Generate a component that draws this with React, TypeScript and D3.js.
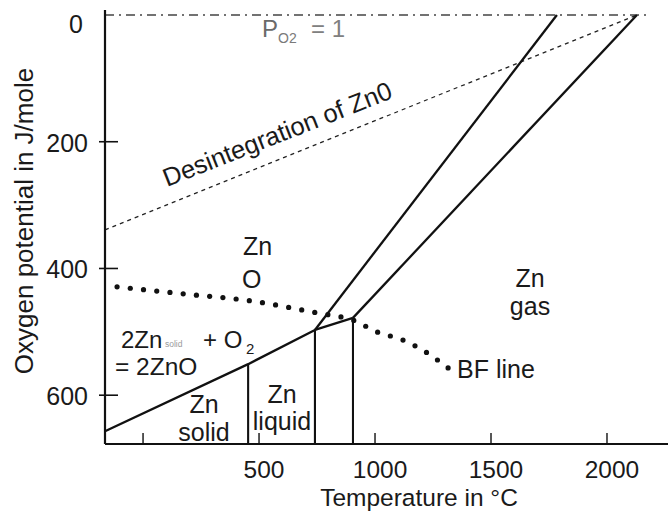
import React, { useEffect, useRef } from 'react';
import * as d3 from 'd3';

const W = 668;
const H = 512;

// Temperature (°C) / oxygen potential (J/mole, drawn downward) values
const formationT = [-164, 453, 741, 905];
const formationG = [657, 551, 497, 478];
const oxideLowT = [741, 1784];
const oxideLowG = [497, 0];
const oxideHighT = [905, 2129];
const oxideHighG = [478, 0];
const boundaryT = [453, 741, 905];
const boundaryG = [551, 497, 478];
const disintegrationT = [-164, 2129];
const disintegrationG = [339, 0];
const po2T = [-164, 2180];
const po2G = [0, 0];
const bfT = [-112, 172, 461, 750, 901, 1008, 1121, 1224, 1315];
const bfG = [429, 440, 451, 470, 481, 500, 513, 533, 557];
const yTicks = [0, 200, 400, 600];
const yTickMarks = [200, 400, 600];
const xTicks = [0, 500, 1000, 1500, 2000];
const xTickLabels = ['', '500', '1000', '1500', '2000'];

const FONT = '"Liberation Sans", Arial, Helvetica, sans-serif';

export default function App() {
  const ref = useRef<SVGSVGElement | null>(null);

  useEffect(() => {
    const svg = d3.select(ref.current);
    svg.selectAll('*').remove();

    const x = d3.scaleLinear().domain([-164, 2263]).range([105, 668]);
    const y = d3.scaleLinear().domain([0, 677]).range([15, 444]);
    const gMin = -8;
    const gMax = 677;

    const zip = (ts: number[], gs: number[]) => ts.map((t, i) => [t, gs[i]] as [number, number]);
    const line = d3.line<[number, number]>().x(d => x(d[0])).y(d => y(d[1]));

    const g = svg.append('g').attr('font-family', FONT);

    // P_O2 = 1 dash-dot line
    g.append('path')
      .attr('d', line(zip(po2T, po2G)))
      .attr('fill', 'none').attr('stroke', '#444').attr('stroke-width', 1.6)
      .attr('stroke-dasharray', '9 5 2 5');

    // Disintegration dashed line
    g.append('path')
      .attr('d', line(zip(disintegrationT, disintegrationG)))
      .attr('fill', 'none').attr('stroke', '#222').attr('stroke-width', 1.3)
      .attr('stroke-dasharray', '4 4');

    // Axes
    g.append('line')
      .attr('x1', x(-164)).attr('x2', x(-164)).attr('y1', y(gMin)).attr('y2', y(gMax))
      .attr('stroke', '#111').attr('stroke-width', 2.2);
    g.append('line')
      .attr('x1', x(-164)).attr('x2', x(2263)).attr('y1', y(gMax)).attr('y2', y(gMax))
      .attr('stroke', '#111').attr('stroke-width', 2.2);

    // Y ticks
    g.selectAll('.ytick').data(yTickMarks).enter().append('line')
      .attr('x1', x(-164) - 6).attr('x2', x(-164) + 13)
      .attr('y1', d => y(d)).attr('y2', d => y(d))
      .attr('stroke', '#111').attr('stroke-width', 1.6);
    g.selectAll('.ylab').data(yTicks).enter().append('text')
      .attr('x', d => (d === 0 ? 83 : 88)).attr('y', d => Math.max(y(d) + 1, 24))
      .attr('text-anchor', 'end').attr('dominant-baseline', 'central')
      .attr('font-size', 25).attr('fill', '#1a1a1a')
      .text(d => String(d));

    // X ticks
    g.selectAll('.xtick').data(xTicks).enter().append('line')
      .attr('x1', d => x(d)).attr('x2', d => x(d))
      .attr('y1', y(gMax) - 11).attr('y2', y(gMax))
      .attr('stroke', '#111').attr('stroke-width', 1.4);
    g.selectAll('.xlab').data(xTicks).enter().append('text')
      .attr('x', d => x(d) + 5).attr('y', 478)
      .attr('text-anchor', 'middle')
      .attr('font-size', 24.5).attr('fill', '#1a1a1a')
      .text((d, i) => xTickLabels[i]);

    // Formation line and oxide lines
    [zip(formationT, formationG), zip(oxideLowT, oxideLowG), zip(oxideHighT, oxideHighG)].forEach(pts => {
      g.append('path')
        .attr('d', line(pts))
        .attr('fill', 'none').attr('stroke', '#111').attr('stroke-width', 2.3)
        .attr('stroke-linejoin', 'round');
    });

    // Phase boundaries (vertical)
    g.selectAll('.vb').data(zip(boundaryT, boundaryG)).enter().append('line')
      .attr('x1', d => x(d[0])).attr('x2', d => x(d[0]))
      .attr('y1', d => y(d[1])).attr('y2', y(gMax))
      .attr('stroke', '#111').attr('stroke-width', 2.1);

    // BF line as dots
    const bfPath = g.append('path')
      .attr('d', d3.line<[number, number]>().x(d => x(d[0])).y(d => y(d[1])).curve(d3.curveCatmullRom)(zip(bfT, bfG)))
      .attr('fill', 'none').attr('stroke', 'none');
    const node = bfPath.node() as SVGPathElement;
    const L = node.getTotalLength();
    const n = Math.round(L / 13.2);
    const dots = d3.range(n + 1).map(i => node.getPointAtLength((L * i) / n));
    g.selectAll('.bfdot').data(dots).enter().append('circle')
      .attr('cx', d => d.x).attr('cy', d => d.y).attr('r', 2.6).attr('fill', '#111');

    // Annotations (pixel placement)
    const txt = (px: number, py: number, s: string, size = 25, anchor = 'start', fill = '#1a1a1a') =>
      g.append('text').attr('x', px).attr('y', py).attr('font-size', size)
        .attr('text-anchor', anchor).attr('fill', fill).text(s);

    // P_O2 = 1
    txt(262, 37, 'P', 24, 'start', '#6a6a6a');
    txt(278, 43, 'O2', 14, 'start', '#7a7a7a');
    txt(311, 37, '= 1', 24, 'start', '#808080');

    // Desintegration of Zn0
    g.append('text')
      .attr('transform', `translate(167,187) rotate(-21.5)`)
      .attr('font-size', 25.5).attr('fill', '#1a1a1a')
      .text('Desintegration of Zn0');

    txt(243, 255, 'Zn');
    txt(242, 288, 'O');
    txt(530, 287, 'Zn', 25, 'middle');
    txt(530, 315, 'gas', 25, 'middle');
    txt(457, 378, 'BF line');

    // 2Zn_solid + O2 = 2ZnO
    txt(121, 348, '2Zn', 24);
    txt(165, 347, 'solid', 8.5, 'start', '#9a9a9a');
    txt(203, 348, '+ O', 24);
    txt(246, 354, '2', 15);
    txt(115, 375, '= 2ZnO', 24.5);

    txt(204, 413, 'Zn', 25, 'middle');
    txt(204, 441, 'solid', 25, 'middle');
    txt(282, 403, 'Zn', 25, 'middle');
    txt(282, 430, 'liquid', 25, 'middle');

    // Axis titles
    g.append('text')
      .attr('x', 419).attr('y', 506).attr('text-anchor', 'middle')
      .attr('font-size', 24.5).attr('fill', '#1a1a1a')
      .text('Temperature in °C');
    g.append('text')
      .attr('transform', `translate(33,221) rotate(-90)`)
      .attr('text-anchor', 'middle')
      .attr('font-size', 26).attr('fill', '#1a1a1a')
      .text('Oxygen potential in J/mole');
  }, []);

  return (
    <svg
      ref={ref}
      width={W}
      height={H}
      viewBox={`0 0 ${W} ${H}`}
      style={{ position: 'absolute', left: 0, top: 0, background: '#fff' }}
    />
  );
}
